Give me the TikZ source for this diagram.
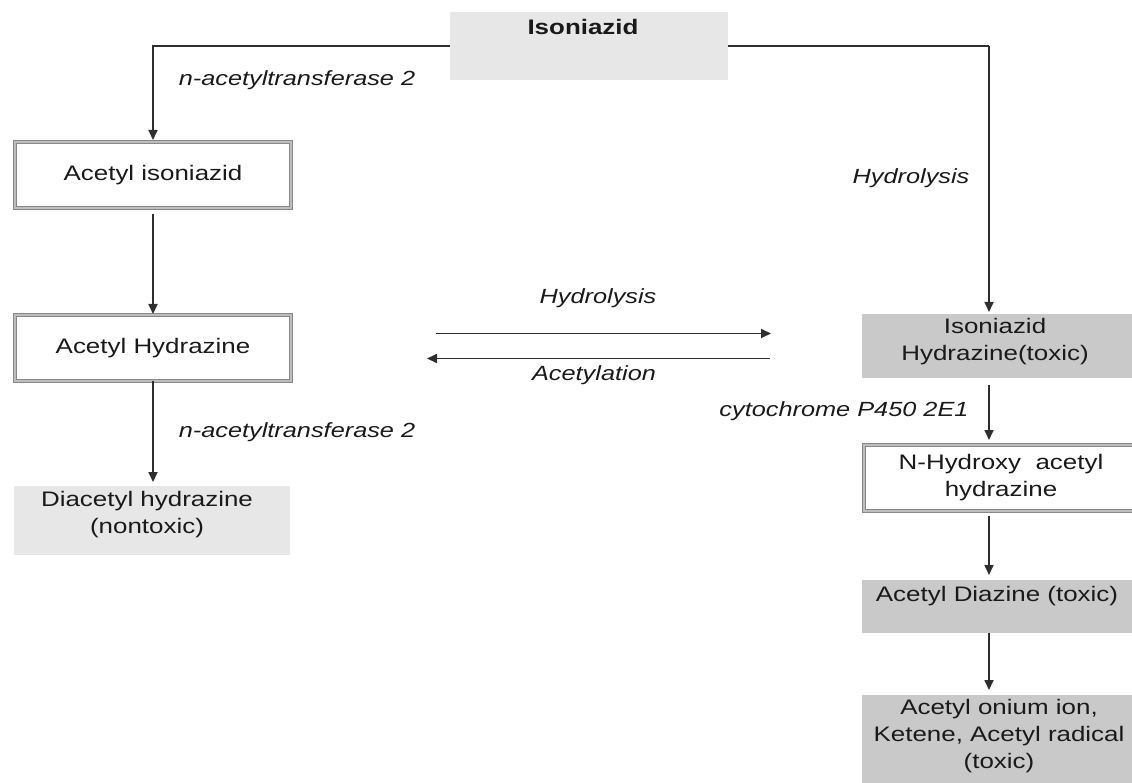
\documentclass[tikz,border=0pt]{standalone}
\usepackage{fontspec}
\setmainfont{Liberation Sans}[FakeStretch=1.235]
\usetikzlibrary{arrows.meta,calc}
\definecolor{lightfill}{HTML}{E7E7E7}
\definecolor{darkfill}{HTML}{C9C9C9}
\definecolor{ink}{HTML}{1A1A1A}
\definecolor{wire}{HTML}{2E2E2E}
\definecolor{rimout}{HTML}{888888}
\definecolor{rimin}{HTML}{BDBDBD}
\begin{document}
\begin{tikzpicture}[x=1pt,y=-1pt,
  box/.style={rectangle, inner sep=0pt, outer sep=0pt},
  lightbox/.style={box, fill=lightfill},
  darkbox/.style={box, fill=darkfill, minimum width=278pt},
  rimbox/.style={box, fill=white, draw=rimout, double=rimin, line width=1.4pt, double distance=1.8pt,
    align=center, text=ink, font=\fontsize{21}{27}\selectfont},
  txt/.style={inner sep=0pt, align=center, text=ink, font=\fontsize{21}{27}\selectfont},
  lbl/.style={inner sep=0pt, text=ink, font=\fontsize{20.5}{24}\selectfont\itshape, text height=14.7pt, text depth=0pt},
  wireline/.style={draw=wire, line width=1.7pt},
  arr/.style={wireline, -{Triangle[length=10pt,width=9pt]}},
]
\useasboundingbox (0,0) rectangle (1132,783);

% boxes
\node[lightbox, minimum width=278pt, minimum height=68pt] (iso) at (589,46) {};
\node[txt, font=\fontsize{21}{27}\selectfont\bfseries] (iso-t) at (583,27) {Isoniazid};

\node[rimbox, minimum width=276pt, minimum height=66pt] (ai) at (153,175) {Acetyl isoniazid};
\node[rimbox, minimum width=276pt, minimum height=66pt] (ah) at (153,348) {Acetyl Hydrazine};

\node[lightbox, minimum width=276pt, minimum height=69pt] (dh) at (152,520.5) {};
\node[txt] (dh-t) at (147,515) {Diacetyl hydrazine\\(nontoxic)};

\node[darkbox, minimum height=64pt] (ih) at (1001,346) {};
\node[txt] (ih-t) at (995,342) {Isoniazid\\Hydrazine(toxic)};

\node[rimbox, minimum width=274pt, minimum height=66pt] (nh) at (1001,478) {N-Hydroxy\ \ acetyl\\hydrazine};

\node[darkbox, minimum height=53pt] (ad) at (1001,606.5) {};
\node[txt] (ad-t) at (997,596) {Acetyl Diazine (toxic)};

\node[darkbox, minimum height=100pt] (fin) at (1001,745) {};
\node[txt] (fin-t) at (999,736) {Acetyl onium ion,\\Ketene, Acetyl radical\\(toxic)};

% connectors
\coordinate (rt) at (989,46);
\draw[arr, shorten >=2pt] (iso.west) -| (ai.north);
\draw[wireline] (iso.east) -- (rt);
\draw[arr, shorten >=2pt] (rt) -- (rt |- ih.north);

\draw[arr, shorten <=6pt, shorten >=1pt] (ai.south) -- (ah.north);
\draw[arr, shorten >=4pt] (ah.south) -- (ah.south |- dh.north);

\draw[arr, shorten <=7pt, shorten >=5pt] (ih.south -| rt) -- (nh.north -| rt);
\draw[arr, shorten <=5pt, shorten >=5pt] (nh.south -| rt) -- (ad.north -| rt);
\draw[arr, shorten >=5pt] (ad.south -| rt) -- (fin.north -| rt);

\draw[arr, shorten <=145pt, shorten >=91pt] ([yshift=14.5pt]ah.east) -- ([yshift=14.5pt]ah.east -| ih.west);
\draw[arr, shorten <=92pt, shorten >=136pt] ([yshift=-10.5pt]ah.east -| ih.west) -- ([yshift=-10.5pt]ah.east);

% labels
\node[lbl] (l-nat1) at (297,78) {n-acetyltransferase 2};
\node[lbl] (l-hyd1) at (911,176) {Hydrolysis};
\node[lbl] (l-hyd2) at (598,296) {Hydrolysis};
\node[lbl] (l-acet) at (594,373) {Acetylation};
\node[lbl] (l-nat2) at (297,430) {n-acetyltransferase 2};
\node[lbl] (l-cyp) at (844,409) {cytochrome P450 2E1};
\end{tikzpicture}
\end{document}
